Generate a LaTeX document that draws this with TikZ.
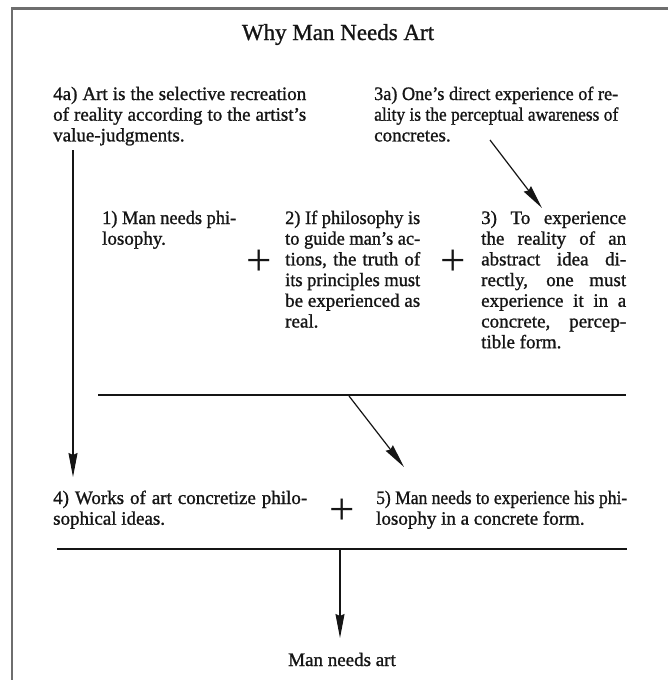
\documentclass[tikz,border=0pt]{standalone}
\usepackage{graphicx}
\usepackage{fontspec}
\setmainfont{Liberation Serif}
\newfontfamily\inkfont{Liberation Serif}[Ligatures=TeX,FakeBold=1.1]
\usetikzlibrary{arrows.meta}
\definecolor{ink}{HTML}{151515}
\definecolor{framecol}{HTML}{6E6E6E}
\newsavebox\fitbox
\newcommand\fitline[2]{\sbox\fitbox{#2}\ifdim\wd\fitbox>#1\relax\resizebox{#1}{\height}{\usebox\fitbox}\else\makebox[#1][s]{#2}\fi}
\newcommand\fl[2]{\hbox{\fitline{#1}{#2}}}
\newcommand\lastl[1]{\hbox{#1}}
\newcommand\para[1]{\vtop{\lineskiplimit=-100pt\relax #1}}
\tikzset{
  txt/.style={anchor=base west, inner sep=0pt, text=ink, font=\inkfont\fontsize{19}{20.7}\selectfont},
  centertxt/.style={anchor=base, inner sep=0pt, text=ink, font=\inkfont\fontsize{19}{20.7}\selectfont},
  plussign/.style={inner sep=0pt, text=ink, font=\fontsize{45}{45}\selectfont},
  rulel/.style={draw=ink, line width=2pt},
  arr/.style={draw=ink, line width=1.2pt, -{Stealth[length=24pt,width=9pt,inset=2pt]}},
}
\begin{document}
\begin{tikzpicture}[x=1pt,y=-1pt]
\useasboundingbox (0,0) rectangle (668,680);
\fill[white] (0,0) rectangle (668,680);
% page frame
\draw[framecol, line width=2.6pt] (668,8.5) -- (12,8.5) -- (12,680);
% title
\node[anchor=base, inner sep=0pt, text=ink, font=\inkfont\fontsize{23}{26}\selectfont] (title) at (338,40) {Why Man Needs Art};
% premises
\node[txt] (n4a) at (53,100) {\para{%
  \fl{253pt}{4a) Art is the selective recreation}%
  \fl{253pt}{of reality according to the artist's}%
  \lastl{value-judgments.}}};
\node[txt] (n3a) at (374,100) {\para{%
  \fl{244pt}{3a) One's direct experience of re-}%
  \fl{244pt}{ality is the perceptual awareness of}%
  \lastl{concretes.}}};
\node[txt] (n1) at (102,224) {\para{%
  \fl{134pt}{1) Man needs phi-}%
  \lastl{losophy.}}};
\node[plussign] (p1) at (259,263) {+};
\node[txt] (n2) at (285,224) {\para{%
  \fl{135pt}{2) If philosophy is}%
  \fl{135pt}{to guide man's ac-}%
  \fl{135pt}{tions, the truth of}%
  \fl{135pt}{its principles must}%
  \fl{135pt}{be experienced as}%
  \lastl{real.}}};
\node[plussign] (p2) at (453,263) {+};
\node[txt] (n3) at (481,224) {\para{%
  \fl{145pt}{3) To experience}%
  \fl{145pt}{the reality of an}%
  \fl{145pt}{abstract idea di-}%
  \fl{145pt}{rectly, one must}%
  \fl{145pt}{experience it in a}%
  \fl{145pt}{concrete, percep-}%
  \lastl{tible form.}}};
% first rule
\coordinate (r1l) at (98,395);
\coordinate (r1r) at (626,395);
\draw[rulel] (r1l) -- (r1r);
% conclusions
\node[txt] (n4) at (53,504) {\para{%
  \fl{254pt}{4) Works of art concretize philo-}%
  \lastl{sophical ideas.}}};
\node[plussign] (p3) at (342,512) {+};
\node[txt] (n5) at (376,504) {\para{%
  \fl{251pt}{5) Man needs to experience his phi-}%
  \lastl{losophy in a concrete form.}}};
% second rule
\coordinate (r2l) at (57,549);
\coordinate (r2r) at (627,549);
\draw[rulel] (r2l) -- (r2r);
% final
\node[centertxt] (fin) at (342,666) {Man needs art};
% arrows
\coordinate (a1s) at (73,150);
\coordinate (a1e) at (73,477);
\draw[arr] (a1s) -- (a1e);
\coordinate (a2s) at (490,140);
\coordinate (a2e) at (542,208);
\draw[arr] (a2s) -- (a2e);
\coordinate (a3s) at (349,396);
\coordinate (a3e) at (404,467);
\draw[arr] (a3s) -- (a3e);
\coordinate (a4s) at (340,550);
\coordinate (a4e) at (340,638);
\draw[arr] (a4s) -- (a4e);
\end{tikzpicture}
\end{document}
